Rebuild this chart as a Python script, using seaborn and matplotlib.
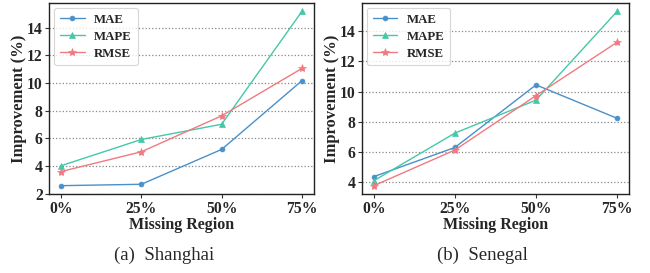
import matplotlib
matplotlib.use("Agg")
import matplotlib.pyplot as plt
from matplotlib.ticker import MultipleLocator
import seaborn as sns
import pandas as pd

categories = ["0%", "25%", "50%", "75%"]
metrics = ["MAE", "MAPE", "RMSE"]

shanghai_mae = [2.58, 2.68, 5.2, 10.17]
shanghai_mape = [4.02, 5.92, 7.02, 15.18]
shanghai_rmse = [3.6, 5.03, 7.63, 11.06]

senegal_mae = [4.37, 6.3, 10.44, 8.23]
senegal_mape = [4.1, 7.25, 9.43, 15.3]
senegal_rmse = [3.77, 6.13, 9.73, 13.26]

subcaptions = ["(a)  Shanghai", "(b)  Senegal"]

colors = {"MAE": "#4a90c9", "MAPE": "#45c8a8", "RMSE": "#f07a80"}
markers = {"MAE": "o", "MAPE": "^", "RMSE": "*"}
msizes = {"MAE": 3.5, "MAPE": 5, "RMSE": 6}

def make_df(mae, mape, rmse):
    rows = []
    for m, vals in zip(metrics, [mae, mape, rmse]):
        for i, (c, v) in enumerate(zip(categories, vals)):
            rows.append({"pos": i, "cat": c, "metric": m, "value": v})
    return pd.DataFrame(rows)

sns.set_theme(style="white")
plt.rcParams["font.family"] = ["Liberation Serif", "DejaVu Serif"]

fig = plt.figure(figsize=(6.5, 2.73), dpi=100)
ax1 = fig.add_axes([0.0754, 0.288, 0.4076, 0.702])
ax2 = fig.add_axes([0.5565, 0.288, 0.4115, 0.702])

datasets = [make_df(shanghai_mae, shanghai_mape, shanghai_rmse),
            make_df(senegal_mae, senegal_mape, senegal_rmse)]

for ax, df, cap in zip([ax1, ax2], datasets, subcaptions):
    for m in metrics:
        sub = df[df.metric == m]
        sns.lineplot(data=sub, x="pos", y="value", ax=ax, color=colors[m],
                     marker=markers[m], markersize=msizes[m], markeredgewidth=0.5,
                     markeredgecolor=colors[m], linewidth=1.0, label=m)
    ax.set_xticks(range(len(categories)))
    ax.set_xticklabels(categories)
    ax.yaxis.set_major_locator(MultipleLocator(2))
    ax.set_xlabel("Missing Region", fontsize=11.5, fontweight="bold", labelpad=0)
    ax.set_ylabel("Improvement (%)", fontsize=12, fontweight="bold", labelpad=0)
    for lab in ax.get_xticklabels() + ax.get_yticklabels():
        lab.set_fontweight("bold")
        lab.set_fontsize(11.3)
    ax.tick_params(axis="both", which="both", length=3, width=0.8, pad=1.5,
                   left=True, bottom=True, color="#333333")
    ax.yaxis.grid(True, linestyle=":", color="#888888", linewidth=0.9)
    ax.xaxis.grid(False)
    for s in ax.spines.values():
        s.set_color("#222222")
        s.set_linewidth(1.0)
    leg = ax.legend(loc="upper left", prop={"weight": "bold", "size": 9.3},
                    frameon=True, fancybox=True, handlelength=1.9,
                    borderpad=0.45, labelspacing=0.38, handletextpad=0.75,
                    borderaxespad=0.4)
    leg.get_frame().set_edgecolor("#cccccc")
    leg.get_frame().set_linewidth(0.8)

fig.text(0.252, 0.065, subcaptions[0], ha="center", va="center", fontsize=13.5)
fig.text(0.742, 0.065, subcaptions[1], ha="center", va="center", fontsize=13.5)

fig.savefig("out.png", dpi=100)
